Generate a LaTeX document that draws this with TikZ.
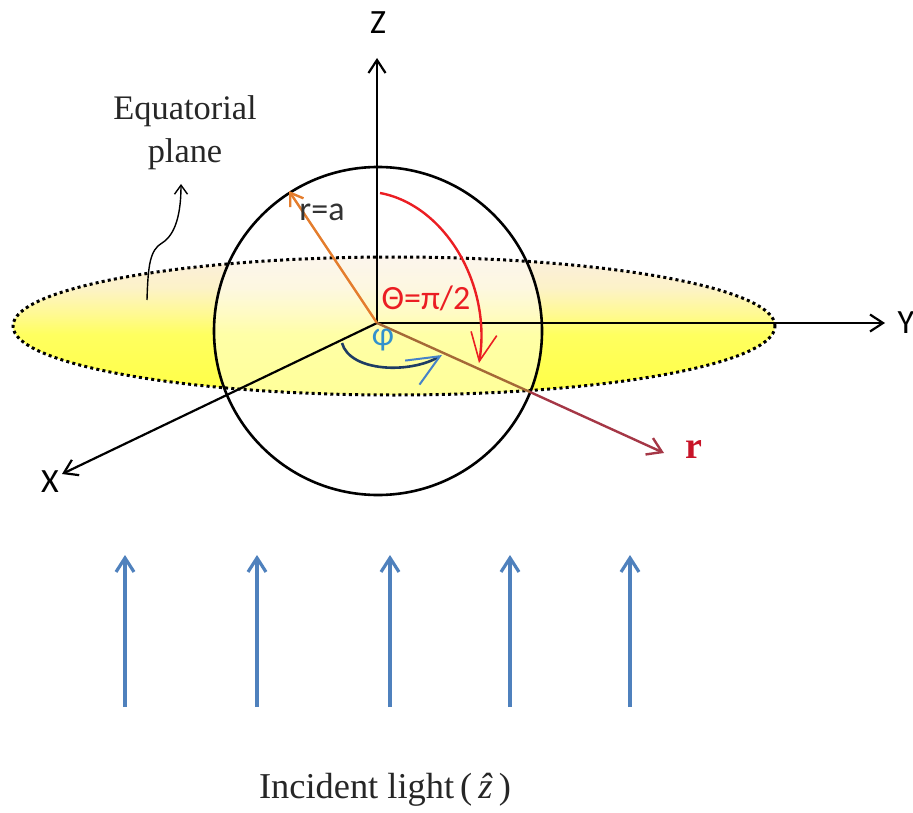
\documentclass[tikz,border=0pt]{standalone}
\usepackage{fontspec}
\setmainfont{Liberation Serif}
\newfontfamily\calib{Carlito}
\usetikzlibrary{arrows.meta}
\definecolor{incblue}{RGB}{79,129,189}
\definecolor{orangeR}{RGB}{228,125,45}
\definecolor{thetared}{RGB}{235,30,35}
\definecolor{rmaroon}{RGB}{165,55,70}
\definecolor{rinside}{RGB}{165,105,55}
\definecolor{phinavy}{RGB}{30,60,100}
\definecolor{phitip}{RGB}{70,130,200}
\definecolor{philabel}{RGB}{50,145,205}
\definecolor{rlabel}{RGB}{200,20,40}
\definecolor{pA}{RGB}{251,238,222}
\definecolor{pB}{RGB}{252,242,200}
\definecolor{pC}{RGB}{255,249,150}
\definecolor{pD}{RGB}{255,255,95}
\definecolor{pE}{RGB}{255,255,70}
\pgfdeclareverticalshading{planeshade}{100bp}{color(0bp)=(pE); color(25bp)=(pE); color(47bp)=(pD); color(55bp)=(pC); color(64bp)=(pB); color(75bp)=(pA); color(100bp)=(pA)}
\tikzset{
  axisline/.style={line width=1.1pt, black, -{Straight Barb[length=6.5pt,width=8.5pt,line width=1.1pt]}},
  sanslabel/.style={font=\calib\fontsize{17}{20}\selectfont, inner sep=0pt},
  inclight/.style={line width=1.6pt, incblue, -{Straight Barb[length=7pt,width=9pt,line width=1.6pt]}},
}
\begin{document}
\begin{tikzpicture}[x=0.5pt,y=-0.5pt]
\useasboundingbox (0,0) rectangle (913,812);
% coordinates
\coordinate (O) at (377,323);
\coordinate (C) at (378,331);
\coordinate (E) at (394,326);
\coordinate (Ztip) at (377,58);
\coordinate (Ytip) at (885,323);
\coordinate (Xtip) at (62,474);
\coordinate (Rtip) at (289,191);
\coordinate (rcross) at (530,392);
\coordinate (rtip) at (664,453);
\coordinate (th0) at (380,193);
\coordinate (th1) at (479,363);
\coordinate (ph0) at (342,343);
\coordinate (ph1) at (442,355);
\coordinate (w0) at (147,300);
\coordinate (w1) at (162,243);
\coordinate (w2) at (181,184);
% equatorial plane
\path[shading=planeshade] (E) ellipse [x radius=190.5pt, y radius=34.5pt];
% sphere
\fill[white, opacity=0.45] (C) circle [radius=82pt];
\draw[line width=1.5pt, dash pattern=on 1.5pt off 1.6pt] (E) ellipse [x radius=190.5pt, y radius=34.5pt];
\draw[line width=1.3pt] (C) circle [radius=82pt];
% axes
\draw[axisline] (O) -- (Ztip);
\draw[axisline] (O) -- (Ytip);
\draw[axisline] (O) -- (Xtip);
\node[sanslabel] (Zlab) at (378,23) {Z};
\node[sanslabel] (Ylab) at (906,323) {Y};
\node[sanslabel] (Xlab) at (50,482) {X};
% r = a
\draw[orangeR, line width=1.2pt, -{Straight Barb[length=6pt,width=8pt,line width=1.2pt]}] (O) -- (Rtip);
\node[sanslabel, text=black!80] (ralab) at (322,212) {r=a};
% r vector
\draw[rinside, line width=1.2pt] (O) -- (rcross);
\draw[rmaroon, line width=1.2pt, -{Straight Barb[length=7pt,width=9pt,line width=1.2pt]}] (rcross) -- (rtip);
\node[font=\bfseries\fontsize{19}{22}\selectfont, text=rlabel, inner sep=0pt] (rlab) at (694,449) {r};
% theta arc
\draw[thetared, line width=1.2pt, -{Straight Barb[length=14pt,width=13pt,line width=0.8pt]}] (th0) .. controls (445,205) and (492,285) .. (th1);
\node[sanslabel, text=thetared] (thlab) at (426,298) {Θ=π/2};
% phi arc
\draw[phinavy, line width=1.3pt, -{Straight Barb[length=16pt,width=14pt,line width=1pt,color=phitip]}] (ph0) .. controls (350,372) and (410,374) .. (ph1);
\node[sanslabel, text=philabel] (phlab) at (383,340) {φ};
% equatorial plane label
\node[align=center, font=\fontsize{17.2}{21.5}\selectfont, text=black!85, inner sep=0pt] (eqlab) at (185,133) {Equatorial\\plane};
\draw[line width=0.7pt, -{Straight Barb[length=4.5pt,width=6.5pt,line width=0.7pt]}] (w0) .. controls (148,265) and (150,250) .. (w1) .. controls (175,235) and (181,215) .. (w2);
% incident light
\foreach \i/\xx in {1/125,2/257,3/390,4/510,5/630}{
  \coordinate (ib\i) at (\xx,707);
  \coordinate (it\i) at (\xx,555);
  \draw[inclight] (ib\i) -- (it\i);
}
\node[font=\fontsize{18.2}{22}\selectfont, text=black!85, inner sep=0pt] (inclab) at (385,790) {Incident light\,(\,\textit{\^{z}}\,)};
\end{tikzpicture}
\end{document}
